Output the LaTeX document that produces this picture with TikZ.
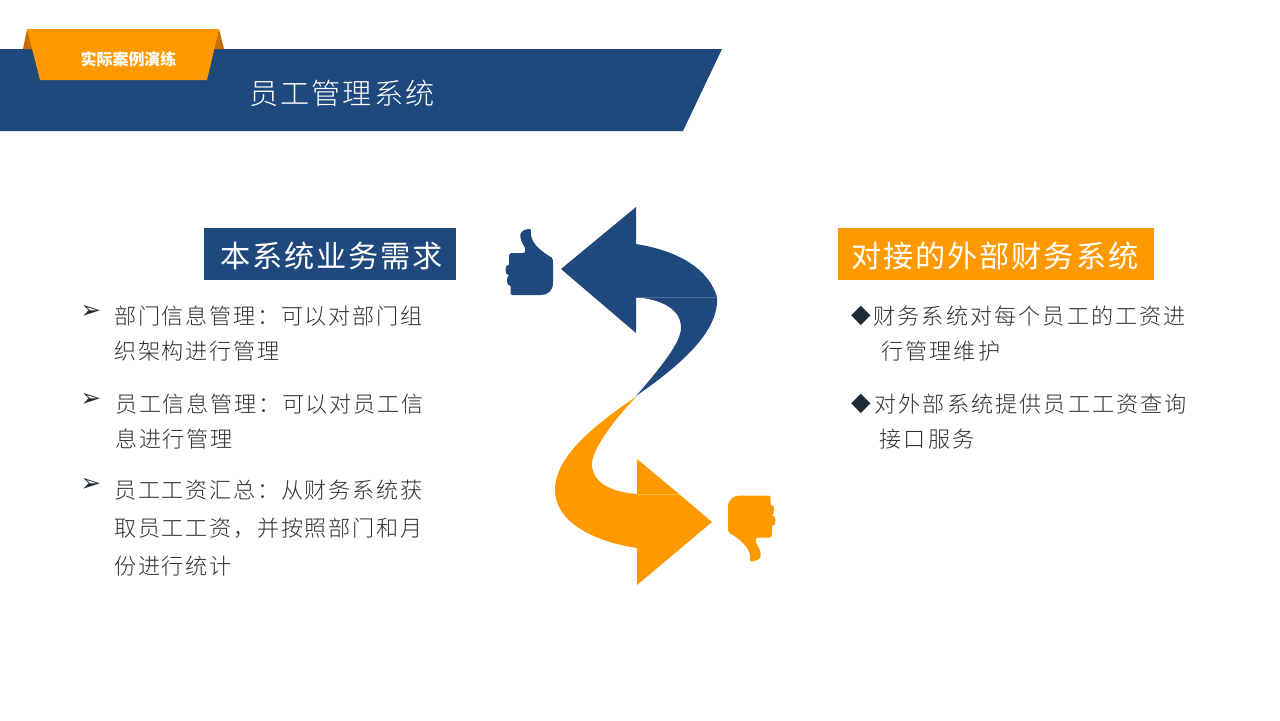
\documentclass[tikz,border=0pt]{standalone}
\usepackage{fontspec}
\usepackage{xcolor}
\usetikzlibrary{positioning}
\setmainfont{Noto Sans CJK SC}
\newfontfamily\titlefont[LetterSpace=7]{Noto Sans CJK SC Light}
\newfontfamily\headfont[LetterSpace=6]{Noto Sans CJK SC}
\newfontfamily\bodyfont[LetterSpace=7.6]{Noto Sans CJK SC Light}
\newfontfamily\bodywidefont[LetterSpace=9.4]{Noto Sans CJK SC Light}
\newfontfamily\bulletfont{DejaVu Sans}
\definecolor{bannerblue}{HTML}{1F497D}
\definecolor{ribbonorange}{HTML}{FF9900}
\definecolor{folddark}{HTML}{C96D00}
\definecolor{bodygrey}{HTML}{303030}
\definecolor{bulletdark}{HTML}{1C2B36}
\tikzset{
  headbox/.style={anchor=center, inner sep=0pt, minimum height=29.5pt, text=white},
  headlabel/.style={inner sep=0pt, text=white, font=\headfont\fontsize{17.2}{20}\selectfont},
  bodytext/.style={anchor=north west, inner sep=0pt, align=left, text=bodygrey, font=\bodyfont\fontsize{12.6}{19.85}\selectfont},
  bodywide/.style={bodytext, font=\bodywidefont\fontsize{12.6}{19.85}\selectfont},
  arrowbullet/.style={anchor=center, inner sep=0pt, text=bulletdark, font=\bulletfont\fontsize{14}{16}\selectfont},
  diamondbullet/.style={anchor=center, inner sep=0pt, text=bulletdark, font=\bulletfont\fontsize{14.5}{16}\selectfont},
  thumbicon/.pic={
    \fill[pic actions] (1.2,-33) -- (1.4,-27) .. controls (3,-17) and (13,-10) .. (22,-4.5)
      .. controls (23.5,-3) and (23.5,-1) .. (23.5,1) -- (23.5,21)
      .. controls (23.5,29) and (18,33) .. (11.5,33) -- (-17,33)
      .. controls (-18.5,33) and (-19,32) .. (-19,30) -- (-19,24)
      .. controls (-21.5,24) and (-22.5,22) .. (-22.5,19) .. controls (-22.5,16) and (-22,14) .. (-20.5,13.5)
      .. controls (-23,13) and (-24,11) .. (-24,8) .. controls (-24,5) and (-23,3) .. (-20.5,2.5)
      -- (-20.5,-6)
      .. controls (-20.5,-8) and (-19,-9) .. (-18,-9) -- (-7,-9)
      .. controls (-4,-9) and (-3.5,-12) .. (-4.5,-14)
      .. controls (-8,-20) and (-10,-25) .. (-9,-28)
      .. controls (-8,-31.5) and (-4,-33) .. (1.2,-33) -- cycle;
  }
}
\begin{document}
\begin{tikzpicture}[x=0.02cm, y=-0.02cm]
\useasboundingbox (0,0) rectangle (1280,720);
% banner
\fill[bannerblue] (0,49) -- (722,49) -- (683,131) -- (0,131) -- cycle;
\fill[folddark] (27,29) -- (23,49) -- (33,49) -- cycle;
\fill[folddark] (219,29) -- (224,49) -- (214,49) -- cycle;
\fill[ribbonorange] (27,29) -- (219,29) -- (207,80) -- (40,80) -- cycle;
\node[inner sep=0pt, text=white, font=\fontsize{9.1}{11}\bfseries\selectfont] (ribbonlabel) at (128.5,59) {实际案例演练};
\node[inner sep=0pt, text=white, font=\titlefont\fontsize{16.6}{20}\selectfont] (bannertitle) at (342,93) {员工管理系统};
% left column
\node[headbox, fill=bannerblue, minimum width=142.9pt] (needhead) at (330,254) {};
\node[headlabel] (needlabel) at (332,255.5) {本系统业务需求};
\node[arrowbullet] (needmarka) at (91,312) {➢};
\node[bodytext] (needa) at (114,305.5) {部门信息管理：可以对部门组\\织架构进行管理};
\node[arrowbullet] (needmarkb) at (91,400) {➢};
\node[bodytext] (needb) at (115,393.5) {员工信息管理：可以对员工信\\息进行管理};
\node[arrowbullet] (needmarkc) at (91,485) {➢};
\node[bodytext] (needc) at (114,479.5) {员工工资汇总：从财务系统获\\[1.7pt]取员工工资，并按照部门和月\\[1.7pt]份进行统计};
% right column
\node[headbox, fill=ribbonorange, minimum width=180.2pt] (finhead) at (996,254) {};
\node[headlabel] (finlabel) at (995,255.5) {对接的外部财务系统};
\node[diamondbullet] (finmarka) at (861,316) {◆};
\node[bodywide] (fina) at (873,305.5) {财务系统对每个员工的工资进\\\hspace{4.5pt}行管理维护};
\node[diamondbullet] (finmarkb) at (861,404) {◆};
\node[bodywide] (finb) at (874,393.5) {对外部系统提供员工工资查询\\\hspace{3pt}接口服务};
% blue arrow
\fill[bannerblue] (561,269) -- (636,207) -- (636,244)
  .. controls (680,251) and (709,270) .. (717,297) -- (636,297) -- (636,333) -- cycle;
\fill[bannerblue] (636,297) -- (717,297)
  .. controls (719,330) and (685,362) .. (636,396)
  .. controls (662,366) and (681,342) .. (681,328)
  .. controls (681,310) and (664,300) .. (636,297) -- cycle;
\draw[bannerblue!80!white, line width=0.4pt] (636,297) -- (717,297);
\pic[bannerblue] (thumbup) at (529.5,262) {thumbicon};
% orange arrow
\fill[ribbonorange] (637,396) .. controls (590,428) and (555,458) .. (555,490)
  .. controls (555,520) and (590,541) .. (637,548) -- (637,585) -- (712,522) -- (679,494) -- (637,494)
  .. controls (610,492) and (592,482) .. (592,464)
  .. controls (592,450) and (612,422) .. (637,396) -- cycle;
\fill[ribbonorange] (637,459) -- (679,494) -- (637,494) -- cycle;
\draw[ribbonorange!70!white, line width=0.4pt] (637,494) -- (679,494);
\pic[ribbonorange, rotate=180] (thumbdown) at (751.5,528.5) {thumbicon};
\end{tikzpicture}
\end{document}
